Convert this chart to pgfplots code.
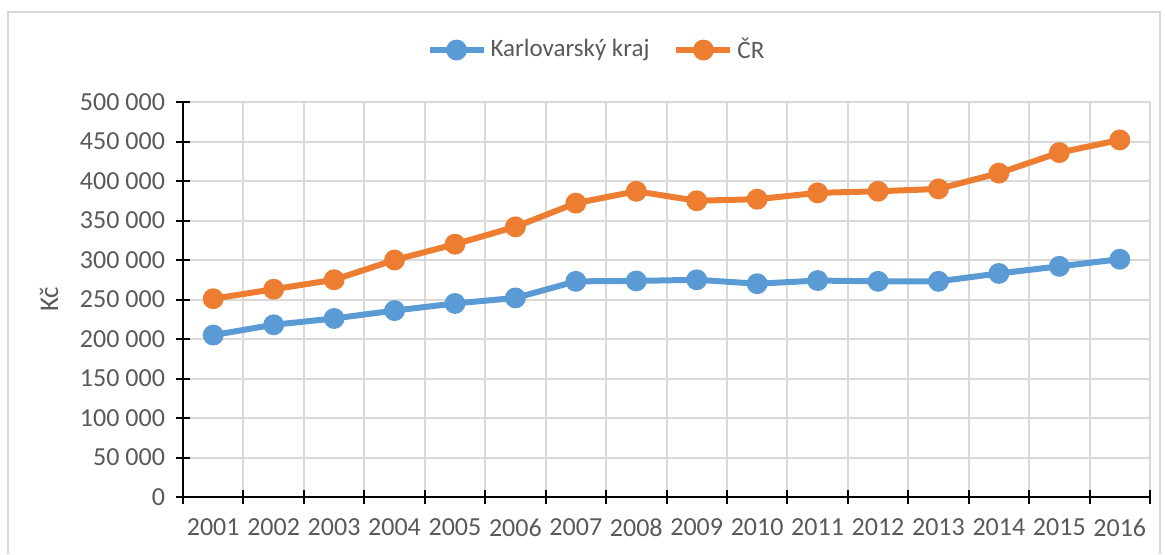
\documentclass[border=0pt]{standalone}
\usepackage{fontspec}
\setmainfont{Carlito}
\usepackage{pgfplots}
\pgfplotsset{compat=1.18}

\definecolor{kvblue}{HTML}{5B9BD5}
\definecolor{crorange}{HTML}{ED7D31}
\definecolor{txtgray}{HTML}{595959}
\definecolor{gridgray}{HTML}{D9D9D9}

\pgfplotstableread{
x  kv     cr
1  205000 251000
2  218000 263000
3  226000 275000
4  236000 300000
5  245000 320000
6  252000 342000
7  273000 372000
8  273500 387000
9  275000 375000
10 270000 377000
11 274000 385000
12 273000 387000
13 273000 390000
14 283000 410000
15 292000 436000
16 301000 452000
}\wages

\begin{document}
\begin{tikzpicture}
\fontsize{13}{15}\selectfont
% chart frame and page size (1 px = 0.5 pt)
\path[use as bounding box] (-91.5pt,-28.5pt) rectangle (491pt,248.5pt);
\draw[gridgray, line width=0.8pt] (-87.5pt,-28.5pt) -- (-87.5pt,242.5pt) -- (488.5pt,242.5pt) -- (488.5pt,-28.5pt);
\begin{axis}[
    at={(0,0)}, anchor=south west,
    scale only axis,
    width=483.5pt, height=197.5pt,
    xmin=0.5, xmax=16.5,
    ymin=0, ymax=500000,
    xtick={0.5,1.5,...,16.5},
    x tick label as interval,
    xticklabels={2001,2002,2003,2004,2005,2006,2007,2008,2009,2010,2011,2012,2013,2014,2015,2016},
    ytick={0,50000,...,500000},
    scaled y ticks=false,
    /pgf/number format/.cd, fixed, 1000 sep={\ }, assume math mode=true,
    /pgfplots/.cd,
    grid=major,
    major grid style={gridgray, line width=1pt},
    axis x line*=bottom, axis y line*=left,
    axis line style={black, line width=1pt, -},
    major tick length=7pt,
    tick align=center,
    tick style={black, line width=1pt},
    ticklabel style={font=\fontsize{13}{15}\selectfont, text=txtgray},
    xticklabel style={yshift=-3pt},
    yticklabel style={xshift=-1pt},
    ylabel={Kč},
    ylabel style={font=\fontsize{13.5}{15}\selectfont, text=txtgray, yshift=2pt},
    legend style={at={(0.4286,1.1316)}, anchor=center, draw=none, fill=none,
        legend columns=-1, font=\fontsize{12.5}{14}\selectfont, text=txtgray,
        /tikz/every even column/.append style={column sep=10pt}},
    legend image code/.code={
        \draw[mark repeat=2, mark phase=2] plot coordinates {(0pt,0pt) (13.5pt,0pt) (27pt,0pt)};
    },
]
\addplot[kvblue, line width=3pt, mark=*, mark size=3.7pt, mark options={solid}] table[x=x, y=kv] {\wages};
\addlegendentry{Karlovarský kraj}
\addplot[crorange, line width=3pt, mark=*, mark size=3.7pt, mark options={solid}] table[x=x, y=cr] {\wages};
\addlegendentry{ČR}
\end{axis}
\end{tikzpicture}
\end{document}
